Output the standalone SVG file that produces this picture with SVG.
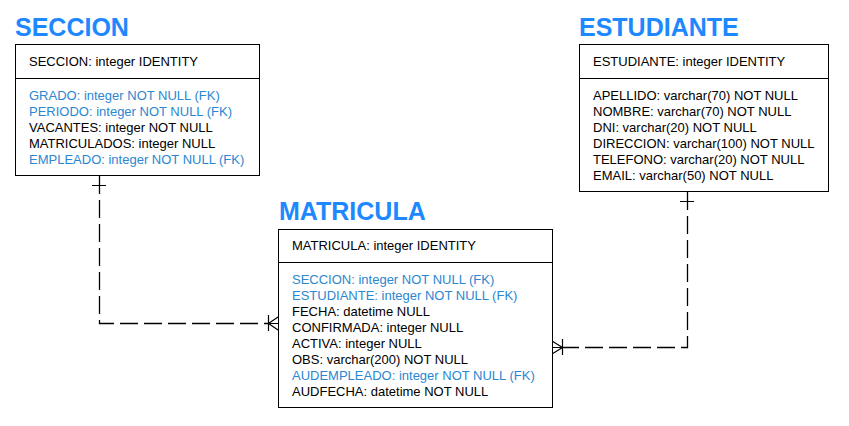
<svg xmlns="http://www.w3.org/2000/svg" width="849" height="426" viewBox="0 0 849 426">
<style>
.title{font-family:"Liberation Sans",Arial,sans-serif;font-weight:bold;font-size:25px;fill:#1E88FF}
.t{font-family:"Liberation Sans",Arial,sans-serif;font-size:13px;fill:#000}
.fk{fill:#2B87D1}
.box{fill:#fff;stroke:#000;stroke-width:1}
.div{stroke:#000;stroke-width:1}
.conn{fill:none;stroke:#000;stroke-width:1.3;stroke-dasharray:18 6}
.mk{fill:none;stroke:#000;stroke-width:1.2}
</style>
<rect width="849" height="426" fill="#fff"/>
<g id="connectors">
<path class="conn" d="M99.5 176 V323.5 H268"/>
<path class="mk" d="M92 185.5 H106 M268.5 315 V331 M268 323.5 H278 M268.5 323.5 L278 317 M268.5 323.5 L278 330"/>
<path class="conn" d="M687.5 192 V347.5 H562"/>
<path class="mk" d="M680 201.5 H694 M562.5 339 V355 M552 347.5 H562 M562.5 347.5 L552 341 M562.5 347.5 L552 354"/>
</g>
<g id="SECCION">
<text class="title" x="15" y="36">SECCION</text>
<rect class="box" x="15.5" y="44.5" width="244" height="131"/>
<line class="div" x1="15.5" y1="78.5" x2="259.5" y2="78.5"/>
<text class="t" x="29" y="66">SECCION: integer IDENTITY</text>
<text class="t fk" x="29" y="100">GRADO: integer NOT NULL (FK)</text>
<text class="t fk" x="29" y="116">PERIODO: integer NOT NULL (FK)</text>
<text class="t" x="29" y="132">VACANTES: integer NOT NULL</text>
<text class="t" x="29" y="148">MATRICULADOS: integer NULL</text>
<text class="t fk" x="29" y="164">EMPLEADO: integer NOT NULL (FK)</text>
</g>
<g id="ESTUDIANTE">
<text class="title" x="579" y="36">ESTUDIANTE</text>
<rect class="box" x="579.5" y="44.5" width="249" height="147"/>
<line class="div" x1="579.5" y1="78.5" x2="828.5" y2="78.5"/>
<text class="t" x="593" y="66">ESTUDIANTE: integer IDENTITY</text>
<text class="t" x="593" y="100">APELLIDO: varchar(70) NOT NULL</text>
<text class="t" x="593" y="116">NOMBRE: varchar(70) NOT NULL</text>
<text class="t" x="593" y="132">DNI: varchar(20) NOT NULL</text>
<text class="t" x="593" y="148">DIRECCION: varchar(100) NOT NULL</text>
<text class="t" x="593" y="164">TELEFONO: varchar(20) NOT NULL</text>
<text class="t" x="593" y="180">EMAIL: varchar(50) NOT NULL</text>
</g>
<g id="MATRICULA">
<text class="title" x="279" y="220">MATRICULA</text>
<rect class="box" x="278.5" y="229.5" width="274" height="178"/>
<line class="div" x1="278.5" y1="262.5" x2="552.5" y2="262.5"/>
<text class="t" x="292" y="250">MATRICULA: integer IDENTITY</text>
<text class="t fk" x="292" y="284">SECCION: integer NOT NULL (FK)</text>
<text class="t fk" x="292" y="300">ESTUDIANTE: integer NOT NULL (FK)</text>
<text class="t" x="292" y="316">FECHA: datetime NULL</text>
<text class="t" x="292" y="332">CONFIRMADA: integer NULL</text>
<text class="t" x="292" y="348">ACTIVA: integer NULL</text>
<text class="t" x="292" y="364">OBS: varchar(200) NOT NULL</text>
<text class="t fk" x="292" y="380">AUDEMPLEADO: integer NOT NULL (FK)</text>
<text class="t" x="292" y="396">AUDFECHA: datetime NOT NULL</text>
</g>
</svg>
